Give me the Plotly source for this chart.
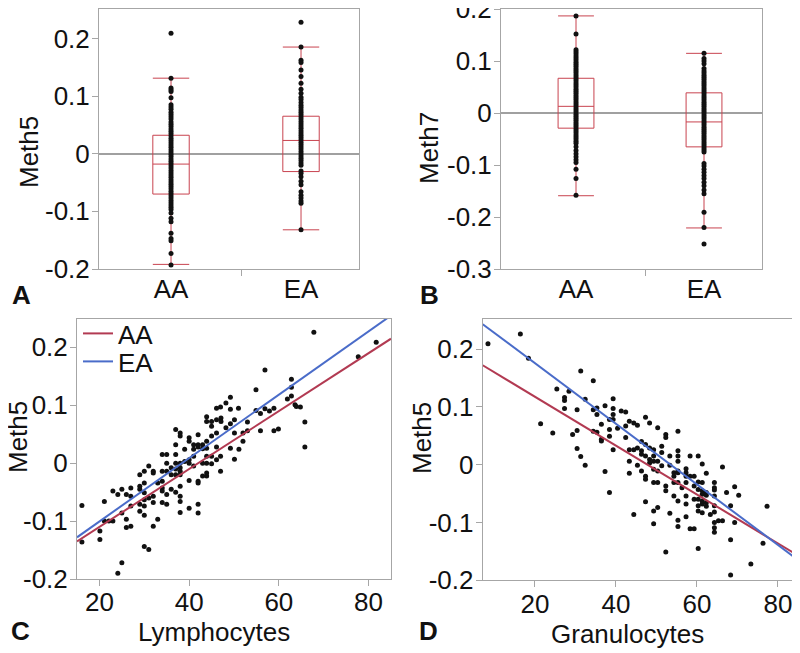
import plotly.graph_objects as go

# ---------------- data ----------------
groups = ["AA", "EA"]

# Panel A (Meth5 by group) box summary statistics
a_q1 = [-0.070, -0.031]
a_median = [-0.018, 0.023]
a_q3 = [0.032, 0.065]
a_lower = [-0.192, -0.132]
a_upper = [0.131, 0.185]
a_aa_pts = [0.209, 0.131, 0.114, 0.111, 0.108, 0.097, 0.085, 0.081, 0.077, 0.072, 0.068, 0.064,
            0.060, 0.055, 0.051, 0.047, 0.043, 0.039, 0.035, 0.031, 0.027, 0.023, 0.019, 0.015,
            0.011, 0.007, 0.003, -0.001, -0.005, -0.009, -0.013, -0.017, -0.021, -0.025, -0.029,
            -0.033, -0.037, -0.041, -0.045, -0.049, -0.053, -0.057, -0.061, -0.065, -0.069, -0.073,
            -0.077, -0.081, -0.085, -0.089, -0.093, -0.097, -0.103, -0.112, -0.118, -0.138, -0.147,
            -0.151, -0.173, -0.193]
a_ea_pts = [0.228, 0.185, 0.162, 0.158, 0.145, 0.134, 0.122, 0.112, 0.105, 0.098, 0.094, 0.089,
            0.084, 0.080, 0.076, 0.072, 0.068, 0.064, 0.060, 0.056, 0.052, 0.048, 0.044, 0.040,
            0.036, 0.032, 0.028, 0.024, 0.020, 0.016, 0.012, 0.008, 0.004, 0.000, -0.004, -0.008,
            -0.012, -0.016, -0.020, -0.030, -0.034, -0.040, -0.048, -0.054, -0.066, -0.072, -0.077,
            -0.082, -0.086, -0.132]

# Panel B (Meth7 by group)
b_q1 = [-0.029, -0.065]
b_median = [0.013, -0.017]
b_q3 = [0.067, 0.039]
b_lower = [-0.159, -0.221]
b_upper = [0.187, 0.115]
b_aa_pts = [0.187, 0.152, 0.122, 0.118, 0.114, 0.110, 0.106, 0.102, 0.098, 0.094, 0.090, 0.086,
            0.082, 0.078, 0.074, 0.070, 0.066, 0.062, 0.058, 0.054, 0.050, 0.046, 0.042, 0.038,
            0.034, 0.030, 0.026, 0.022, 0.018, 0.014, 0.010, 0.006, 0.002, -0.002, -0.006, -0.010,
            -0.014, -0.018, -0.022, -0.026, -0.030, -0.034, -0.038, -0.042, -0.046, -0.050, -0.054,
            -0.058, -0.065, -0.072, -0.078, -0.084, -0.090, -0.095, -0.108, -0.126, -0.158]
b_ea_pts = [0.115, 0.105, 0.100, 0.095, 0.086, 0.081, 0.077, 0.073, 0.069, 0.065, 0.061, 0.057,
            0.053, 0.049, 0.045, 0.041, 0.037, 0.033, 0.029, 0.025, 0.021, 0.017, 0.013, 0.009,
            0.005, 0.001, -0.003, -0.007, -0.011, -0.015, -0.019, -0.023, -0.027, -0.031, -0.035,
            -0.039, -0.043, -0.047, -0.051, -0.055, -0.059, -0.063, -0.067, -0.071, -0.075, -0.097,
            -0.102, -0.108, -0.114, -0.120, -0.126, -0.133, -0.140, -0.148, -0.155, -0.191, -0.220,
            -0.252]

# Panel C (Meth5 vs Lymphocytes)
lymph = [67.8, 81.7, 77.7, 56.9, 54.9, 62.8, 62.8, 62.8, 61.9, 63.6, 63.9, 64.8, 65.8, 65.8, 58.9,
         59.9, 55.9, 55.9, 54.9, 56.9, 57.9, 58.9, 53.0, 52.0, 51.1, 53.0, 52.0, 50.1, 50.1, 49.2,
         51.0, 49.2, 49.2, 48.2, 50.1, 49.2, 48.2, 47.0, 47.1, 47.1, 46.1, 46.1, 46.1, 45.0, 45.0,
         43.9, 43.9, 45.0, 43.9, 43.9, 43.9, 43.9, 43.9, 43.9, 45.0, 45.0, 46.1, 47.0, 47.0, 46.1,
         43.0, 43.0, 42.0, 42.0, 42.0, 41.0, 41.0, 41.0, 41.0, 42.0, 42.0, 42.0, 42.0, 40.0, 40.0,
         40.0, 40.0, 40.0, 40.0, 43.0, 43.0, 39.0, 39.0, 38.0, 38.0, 38.0, 38.0, 38.0, 38.0, 38.0,
         38.0, 38.0, 38.0, 37.0, 37.0, 37.0, 37.0, 37.0, 37.0, 37.0, 36.0, 36.0, 36.0, 35.0, 35.0,
         35.0, 35.0, 35.0, 34.0, 34.0, 34.0, 34.0, 34.0, 34.0, 33.0, 33.0, 32.0, 32.0, 32.0, 32.0,
         32.0, 31.0, 31.0, 31.0, 30.0, 30.0, 30.0, 30.0, 30.0, 30.0, 30.0, 29.0, 29.0, 29.0, 29.0,
         29.0, 27.0, 27.0, 27.0, 27.0, 26.0, 26.0, 26.0, 25.0, 25.0, 25.0, 24.1, 24.1, 23.0, 23.0,
         22.1, 21.1, 21.1, 20.1, 20.1, 16.1, 16.1]
meth5_c = [0.226, 0.209, 0.184, 0.161, 0.127, 0.145, 0.131, 0.116, 0.111, 0.101, 0.098, 0.097,
           0.071, 0.028, 0.056, 0.059, 0.056, 0.086, 0.091, 0.094, 0.090, 0.095, 0.071, 0.038,
           0.024, 0.056, 0.052, 0.052, 0.007, 0.026, 0.095, 0.114, 0.093, 0.104, 0.075, 0.068,
           0.061, 0.097, 0.078, 0.072, 0.075, 0.052, 0.095, 0.072, 0.064, 0.080, 0.072, 0.047,
           0.038, 0.026, 0.012, 0.000, -0.017, -0.022, 0.012, -0.001, 0.006, -0.014, 0.012, 0.028,
           0.032, 0.025, 0.032, 0.028, 0.049, 0.032, 0.024, 0.012, -0.005, -0.031, -0.034, -0.071,
           -0.086, 0.044, 0.038, 0.006, 0.000, -0.030, -0.078, 0.000, -0.022, 0.024, 0.003, 0.052,
           0.047, 0.000, -0.008, -0.014, -0.020, -0.040, -0.057, -0.066, -0.085, 0.058, 0.032,
           0.015, 0.000, -0.010, -0.020, -0.050, -0.008, -0.020, -0.045, 0.015, 0.000, -0.014,
           -0.054, -0.071, 0.015, -0.014, -0.031, -0.043, -0.048, -0.068, -0.034, -0.097, -0.014,
           -0.017, -0.057, -0.068, -0.109, -0.005, -0.060, -0.149, -0.014, -0.034, -0.051, -0.063,
           -0.074, -0.090, -0.144, -0.020, -0.040, -0.045, -0.071, -0.083, -0.043, -0.057, -0.074,
           -0.109, -0.054, -0.097, -0.111, -0.045, -0.086, -0.172, -0.054, -0.190, -0.048, -0.100,
           -0.100, -0.066, -0.100, -0.117, -0.132, -0.073, -0.136]
fit_x_c = [15, 85]
fit_aa_c = [-0.135, 0.215]
fit_ea_c = [-0.128, 0.255]

# Panel D (Meth5 vs Granulocytes)
gran = [8.4, 16.4, 18.4, 31.3, 34.4, 25.4, 28.4, 27.3, 27.3, 27.3, 21.4, 24.4, 30.4, 29.3, 30.4,
        30.4, 31.3, 32.4, 32.4, 34.4, 35.3, 35.3, 36.4, 34.4, 35.3, 36.4, 36.4, 37.3, 37.3, 38.4,
        38.4, 38.4, 38.4, 39.3, 39.3, 39.3, 39.3, 39.3, 40.4, 41.3, 42.4, 42.4, 42.4, 43.3, 43.3,
        43.3, 43.3, 44.4, 44.4, 44.4, 45.3, 45.3, 45.3, 46.3, 46.3, 46.3, 46.3, 47.3, 47.3, 47.3,
        47.3, 47.3, 47.3, 48.3, 48.3, 48.3, 48.3, 49.3, 49.3, 49.3, 49.3, 49.3, 49.3, 49.3, 50.3,
        50.3, 50.3, 50.3, 50.3, 51.3, 51.3, 51.3, 52.3, 52.3, 52.3, 52.3, 52.3, 53.3, 53.3, 53.3,
        54.3, 54.3, 54.3, 54.3, 55.3, 55.3, 55.3, 56.3, 55.3, 55.3, 55.3, 55.3, 55.3, 55.3, 55.3,
        57.3, 57.3, 57.3, 57.3, 57.3, 57.3, 57.3, 58.3, 58.3, 59.3, 59.3, 59.3, 59.3, 60.3, 60.3,
        60.3, 60.3, 60.3, 60.3, 60.3, 61.3, 61.3, 61.3, 61.3, 61.3, 61.3, 61.3, 62.3, 62.3, 62.3,
        62.3, 62.3, 63.3, 64.3, 64.3, 64.3, 64.3, 64.3, 64.3, 64.3, 64.3, 65.3, 66.3, 66.3, 67.3,
        68.3, 68.3, 68.3, 69.3, 69.3, 70.3, 73.3, 76.3, 77.3, 58.3, 64.3]
meth5_d = [0.209, 0.226, 0.184, 0.162, 0.145, 0.131, 0.127, 0.116, 0.111, 0.097, 0.071, 0.055,
           0.095, 0.052, 0.059, 0.028, 0.014, -0.001, 0.113, 0.095, 0.098, 0.087, 0.070, 0.058,
           0.056, 0.044, 0.041, 0.102, -0.012, -0.048, 0.078, 0.061, 0.049, 0.114, 0.097, 0.087,
           0.078, 0.026, 0.063, 0.093, 0.091, 0.067, 0.047, 0.075, 0.026, 0.006, -0.015, -0.086,
           0.026, 0.072, 0.068, 0.029, -0.001, 0.024, 0.040, 0.018, -0.011, 0.082, 0.035, 0.015,
           -0.020, -0.025, -0.064, 0.072, 0.029, 0.009, 0.003, 0.026, 0.015, 0.006, -0.008, -0.031,
           -0.080, -0.102, 0.064, 0.006, -0.011, -0.031, -0.074, 0.032, 0.021, -0.002, 0.052, 0.047,
           -0.037, -0.045, -0.151, -0.001, 0.015, -0.084, -0.014, -0.020, -0.031, -0.054, 0.024,
           -0.031, -0.063, -0.040, 0.058, 0.015, 0.006, -0.011, -0.014, -0.096, -0.107, -0.007,
           -0.014, -0.020, -0.031, -0.054, -0.068, -0.090, 0.015, -0.020, -0.020, -0.037, -0.060,
           -0.111, 0.015, -0.030, -0.043, -0.060, -0.071, -0.080, -0.145, 0.001, -0.031, -0.045,
           -0.051, -0.063, -0.068, -0.083, -0.015, -0.048, -0.053, -0.066, -0.072, -0.086, -0.031,
           -0.040, -0.044, -0.054, -0.071, -0.100, -0.109, -0.117, -0.097, -0.097, -0.004, -0.048,
           -0.071, -0.130, -0.191, -0.038, -0.100, -0.053, -0.172, -0.136, -0.072, -0.111, -0.082]
fit_x_d = [7.1, 84.2]
fit_aa_d = [0.172, -0.154]
fit_ea_d = [0.243, -0.161]

# ---------------- style ----------------
FONT = "Liberation Sans, Arial, sans-serif"
AXC = "#a6a6a6"
BOXC = "#c8434f"
RED = "#b23a52"
BLUE = "#4a6cc9"
DOT = "#111111"

# The page has an 8px body margin: the figure is sized to fit the window.
OFF = 8
W, H = 800 - OFF, 653 - OFF

def px(xs):
    return (xs - OFF) / W

def py(ys):
    return 1 - (ys - OFF) / H

fig = go.Figure()

def add_box_panel(xa, ya, q1, med, q3, lo, hi, aa_pts, ea_pts):
    fig.add_trace(go.Box(x=[0, 1], q1=q1, median=med, q3=q3, lowerfence=lo, upperfence=hi,
                         width=0.28, whiskerwidth=1, boxpoints=False,
                         fillcolor="rgba(0,0,0,0)", line=dict(color=BOXC, width=1),
                         xaxis=xa, yaxis=ya, showlegend=False, hoverinfo="skip"))
    fig.add_trace(go.Scatter(x=[0] * len(aa_pts) + [1] * len(ea_pts), y=aa_pts + ea_pts,
                             mode="markers", marker=dict(color=DOT, size=5),
                             xaxis=xa, yaxis=ya, showlegend=False, hoverinfo="skip"))

add_box_panel("x", "y", a_q1, a_median, a_q3, a_lower, a_upper, a_aa_pts, a_ea_pts)
add_box_panel("x2", "y2", b_q1, b_median, b_q3, b_lower, b_upper, b_aa_pts, b_ea_pts)

fig.add_trace(go.Scatter(x=lymph, y=meth5_c, mode="markers", marker=dict(color=DOT, size=5),
                         xaxis="x3", yaxis="y3", showlegend=False, hoverinfo="skip"))
fig.add_trace(go.Scatter(x=fit_x_c, y=fit_aa_c, mode="lines", line=dict(color=RED, width=2),
                         name="AA", xaxis="x3", yaxis="y3", showlegend=True, legend="legend"))
fig.add_trace(go.Scatter(x=fit_x_c, y=fit_ea_c, mode="lines", line=dict(color=BLUE, width=2),
                         name="EA", xaxis="x3", yaxis="y3", showlegend=True, legend="legend2"))

fig.add_trace(go.Scatter(x=gran, y=meth5_d, mode="markers", marker=dict(color=DOT, size=5),
                         xaxis="x4", yaxis="y4", showlegend=False, hoverinfo="skip"))
fig.add_trace(go.Scatter(x=fit_x_d, y=fit_aa_d, mode="lines", line=dict(color=RED, width=2),
                         xaxis="x4", yaxis="y4", showlegend=False))
fig.add_trace(go.Scatter(x=fit_x_d, y=fit_ea_d, mode="lines", line=dict(color=BLUE, width=2),
                         xaxis="x4", yaxis="y4", showlegend=False))

tickfont = dict(family=FONT, size=26, color="#111")
titlefont = dict(family=FONT, size=26, color="#111")

def axis_common():
    return dict(showline=True, mirror=True, linecolor=AXC, linewidth=1, showgrid=False,
                ticks="outside", ticklen=6, tickcolor=AXC, tickfont=tickfont, automargin=False,
                ticklabeloverflow="allow")

def yticks(vals):
    return dict(tickmode="array", tickvals=vals, ticklabelstandoff=-3,
                ticktext=[("0" if v == 0 else ("%g" % v)) for v in vals])

ya_vals = [-0.2, -0.1, 0, 0.1, 0.2]
yb_vals = [-0.3, -0.2, -0.1, 0, 0.1, 0.2]
xc_vals = [20, 40, 60, 80]

cat_x = dict(tickmode="array", tickvals=[0, 1], ticktext=groups, ticks="",
             ticklabelstandoff=-3,
             minor=dict(tickmode="array", tickvals=[0.545], ticks="outside", ticklen=6,
                        tickcolor=AXC))

leg_common = dict(xanchor="left", yanchor="top", bgcolor="rgba(0,0,0,0)",
                  font=dict(family=FONT, size=26, color="#111"), itemwidth=30)

top_dom = [py(269), py(9)]
layout = dict(
    width=W, height=H, paper_bgcolor="white", plot_bgcolor="white",
    margin=dict(l=0, r=0, t=0, b=0),
    font=dict(family=FONT, color="#111"),
    xaxis=dict(axis_common(), domain=[px(99), px(359)], range=[-0.554, 1.446], zeroline=False,
               **cat_x, anchor="y"),
    yaxis=dict(axis_common(), domain=top_dom, range=[-0.2, 0.251], zeroline=True,
               zerolinecolor="#a0a0a0", zerolinewidth=1.5, **yticks(ya_vals), anchor="x"),
    xaxis2=dict(axis_common(), domain=[px(501), px(762)], range=[-0.586, 1.453], zeroline=False,
                **cat_x, anchor="y2"),
    yaxis2=dict(axis_common(), domain=top_dom, range=[-0.3, 0.2003], zeroline=True,
                zerolinecolor="#a0a0a0", zerolinewidth=1.5, **yticks(yb_vals), anchor="x2"),
    xaxis3=dict(axis_common(), domain=[px(77), px(391)], range=[15, 85], zeroline=False,
                tickmode="array", tickvals=xc_vals, anchor="y3", ticklabelstandoff=-6),
    yaxis3=dict(axis_common(), domain=[py(579), py(319)], range=[-0.2, 0.249], zeroline=False,
                **yticks(ya_vals), anchor="x3"),
    xaxis4=dict(axis_common(), domain=[px(482.7), px(795)], range=[7.1, 84.2], zeroline=False,
                tickmode="array", tickvals=xc_vals, anchor="y4", ticklabelstandoff=-6),
    yaxis4=dict(axis_common(), domain=[py(580.3), py(319)], range=[-0.2, 0.252], zeroline=False,
                **yticks(ya_vals), anchor="x4"),
    legend=dict(leg_common, x=px(78), y=py(310)),
    legend2=dict(leg_common, x=px(78), y=py(338)),
    showlegend=True,
)
fig.update_layout(**layout)

# panel letters
letters = [("A", 10, 295), ("B", 418, 295), ("C", 9, 631), ("D", 417, 631)]
for t, lx, ly in letters:
    fig.add_annotation(text="<b>%s</b>" % t, x=px(lx), y=py(ly), xref="paper",
                       yref="paper", xanchor="left", yanchor="middle", showarrow=False,
                       font=dict(family=FONT, size=26, color="#111"))

# axis titles
titles = [("Meth5", 29, 152, -90), ("Meth7", 429, 148, -90), ("Meth5", 18, 437, -90),
          ("Meth5", 422, 438, -90), ("Lymphocytes", 214, 632, 0), ("Granulocytes", 627, 634, 0)]
for t, tx, ty, ang in titles:
    fig.add_annotation(text=t, x=px(tx), y=py(ty), xref="paper", yref="paper",
                       xanchor="center", yanchor="middle", showarrow=False, textangle=ang,
                       font=titlefont)

fig.write_html("out.html")
